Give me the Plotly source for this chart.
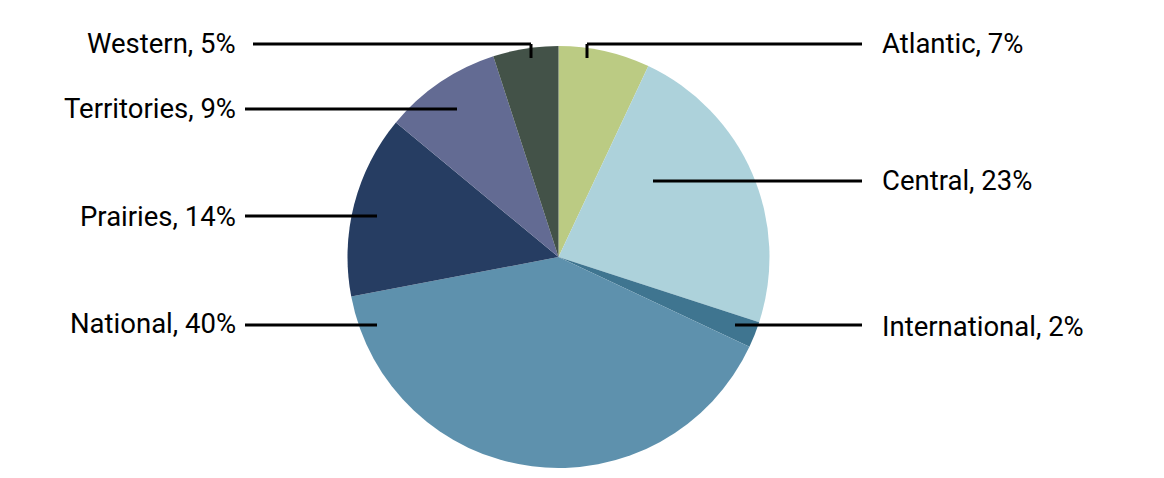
import plotly.graph_objects as go

W, H = 1164, 478
OFF = 8  # page body margin

regions = ["Atlantic", "Central", "International", "National", "Prairies", "Territories", "Western"]
shares = [7, 23, 2, 40, 14, 9, 5]
colors = ["#BBCB83", "#ADD2DB", "#3F7590", "#5E91AD", "#263D62", "#636B93", "#435248"]

# label anchor layout (pixels): text side, text y, leader path
label_layout = {
    "Atlantic":      ("right", 44,  [(587, 58), (587, 44), (862, 44)]),
    "Central":       ("right", 181, [(653, 181), (862, 181)]),
    "International": ("right", 326, [(735, 325), (862, 325)]),
    "National":      ("left",  323, [(377, 325), (245, 325)]),
    "Prairies":      ("left",  216, [(377, 216), (245, 216)]),
    "Territories":   ("left",  109, [(457, 109), (245, 109)]),
    "Western":       ("left",  44,  [(531, 58), (531, 44), (253, 44)]),
}

cx, cy, r = 558.5 - OFF, 257 - OFF, 211

fig = go.Figure(go.Pie(
    labels=regions, values=shares, sort=False, direction="clockwise", rotation=0,
    marker=dict(colors=colors, line=dict(width=0)),
    textinfo="none", hoverinfo="label+percent",
    domain=dict(x=[(cx - r) / W, (cx + r) / W], y=[1 - (cy + r) / H, 1 - (cy - r) / H]),
))

def px(x, y):
    return (x - OFF) / W, 1 - (y - OFF) / H

shapes, annotations = [], []
for name, val in zip(regions, shares):
    side, ty, path = label_layout[name]
    for (x0, y0), (x1, y1) in zip(path[:-1], path[1:]):
        a, b = px(x0, y0)
        c, d = px(x1, y1)
        shapes.append(dict(type="line", xref="paper", yref="paper", x0=a, y0=b, x1=c, y1=d,
                           line=dict(color="black", width=3)))
    if side == "right":
        ax, ay = px(880, ty)
        xanchor = "left"
    else:
        ax, ay = px(238, ty)
        xanchor = "right"
    annotations.append(dict(text=f"{name}, {val}%", x=ax, y=ay, xref="paper", yref="paper",
                            xanchor=xanchor, yanchor="middle", showarrow=False,
                            font=dict(family="Roboto", size=27.5, color="black")))

fig.update_layout(
    width=W, height=H, margin=dict(l=0, r=0, t=0, b=0),
    paper_bgcolor="white", plot_bgcolor="white", showlegend=False,
    shapes=shapes, annotations=annotations,
)
fig.write_html("out.html")
